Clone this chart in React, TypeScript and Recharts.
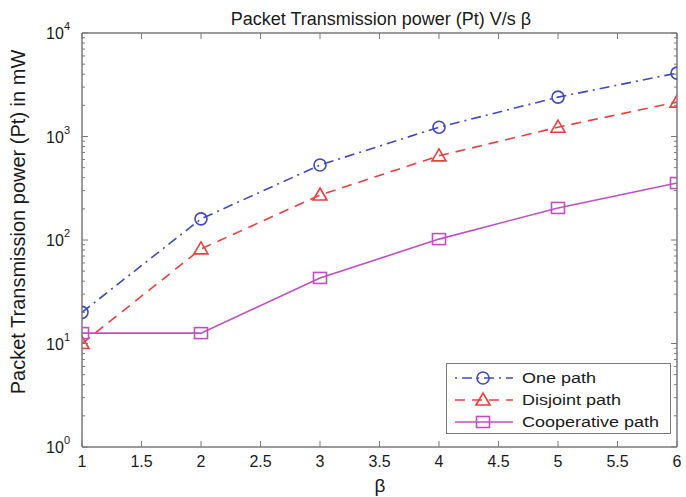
import React from 'react';
import { LineChart, Line, XAxis, YAxis, Customized } from 'recharts';

const betaValues = [1, 2, 3, 4, 5, 6];
const onePath = [20, 160, 530, 1230, 2400, 4100];
const disjointPath = [10, 82, 272, 650, 1230, 2150];
const cooperativePath = [12.6, 12.6, 43, 102, 204, 355];
const xTicks = [1, 1.5, 2, 2.5, 3, 3.5, 4, 4.5, 5, 5.5, 6];
const yDecades = [1, 10, 100, 1000];
const yMax = 10000;
const seriesNames = ['One path', 'Disjoint path', 'Cooperative path'];
const titleText = 'Packet Transmission power (Pt) V/s \u03b2';
const yLabelText = 'Packet Transmission power (Pt) in mW';
const xLabelText = '\u03b2';

const yTicks: number[] = [];
yDecades.forEach((d) => {
  for (let k = 1; k <= 9; k++) yTicks.push(k * d);
});
yTicks.push(yMax);

const data = betaValues.map((b, i) => ({
  beta: b,
  one: onePath[i],
  disjoint: disjointPath[i],
  coop: cooperativePath[i],
}));

const FONT = 'Liberation Sans, Arial, sans-serif';
const FRAME = '#7a7a7a';
const BLUE = '#3f49c0';
const RED = '#f23c3c';
const MAGENTA = '#c24ec4';
const TEXT = '#1a1a1a';

const isMajor = (v: number) => {
  const e = Math.round(Math.log10(v));
  return Math.abs(Math.pow(10, e) - v) < 1e-6;
};

const BottomTick = (props: any) => {
  const { x, y, payload } = props;
  return (
    <g>
      <line x1={x} y1={y} x2={x} y2={y - 6} stroke={FRAME} strokeWidth={1} />
      <text x={x} y={y + 20} textAnchor="middle" fontSize={16} fontFamily={FONT} fill={TEXT}>
        {payload.value}
      </text>
    </g>
  );
};

const TopTick = (props: any) => {
  const { x, y } = props;
  return <line x1={x} y1={y} x2={x} y2={y + 6} stroke={FRAME} strokeWidth={1} />;
};

const LeftTick = (props: any) => {
  const { x, y, payload } = props;
  const v = payload.value;
  const major = isMajor(v);
  const len = major ? 6 : 3;
  const e = Math.round(Math.log10(v));
  return (
    <g>
      <line x1={x} y1={y} x2={x + len} y2={y} stroke={FRAME} strokeWidth={1} />
      {major && (
        <text x={x - 12} y={y + 6} textAnchor="end" fontSize={16} fontFamily={FONT} fill={TEXT}>
          10
          <tspan dy={-9} fontSize={11}>
            {e}
          </tspan>
        </text>
      )}
    </g>
  );
};

const RightTick = (props: any) => {
  const { x, y, payload } = props;
  const len = isMajor(payload.value) ? 6 : 3;
  return <line x1={x} y1={y} x2={x - len} y2={y} stroke={FRAME} strokeWidth={1} />;
};

const CircleMark = ({ cx, cy, color }: any) => (
  <circle cx={cx} cy={cy} r={6} fill="none" stroke={color} strokeWidth={1.6} />
);
const TriangleMark = ({ cx, cy, color }: any) => (
  <path
    d={`M${cx},${cy - 7} L${cx + 7},${cy + 5} L${cx - 7},${cy + 5} Z`}
    fill="none"
    stroke={color}
    strokeWidth={1.6}
  />
);
const SquareMark = ({ cx, cy, color }: any) => (
  <rect x={cx - 6.5} y={cy - 5.5} width={13} height={11} fill="none" stroke={color} strokeWidth={1.6} />
);

const makeDot = (Comp: any, color: string) => (p: any) => {
  if (p.cx == null || p.cy == null) return <g key={p.key} />;
  return <Comp key={p.key} cx={p.cx} cy={p.cy} color={color} />;
};

const legendRows = [
  { name: seriesNames[0], color: BLUE, dash: '2 5 10 5', Mark: CircleMark },
  { name: seriesNames[1], color: RED, dash: '10 7', Mark: TriangleMark },
  { name: seriesNames[2], color: MAGENTA, dash: undefined, Mark: SquareMark },
];

const Decorations = () => {
  const lx = 446;
  const ly = 363;
  return (
    <g>
      <text x={381} y={25} textAnchor="middle" fontSize={18} fontFamily={FONT} fill={TEXT}>
        {titleText}
      </text>
      <text x={380} y={492} textAnchor="middle" fontSize={19} fontFamily={FONT} fill={TEXT}>
        {xLabelText}
      </text>
      <text
        x={0}
        y={0}
        transform="translate(25,222) rotate(-90)"
        textAnchor="middle"
        fontSize={20}
        fontFamily={FONT}
        fill={TEXT}
      >
        {yLabelText}
      </text>
      <rect x={lx + 0.5} y={ly + 0.5} width={224} height={70} fill="#fff" stroke={FRAME} strokeWidth={1} />
      {legendRows.map((r, i) => {
        const cy = ly + 15 + i * 22;
        const M = r.Mark;
        return (
          <g key={r.name}>
            <line
              x1={lx + 9}
              y1={cy}
              x2={lx + 67}
              y2={cy}
              stroke={r.color}
              strokeWidth={1.6}
              strokeDasharray={r.dash}
            />
            <M cx={lx + 37} cy={cy} color={r.color} />
            <g transform={`translate(${lx + 76},${cy + 5}) scale(1.2,1)`}>
              <text x={0} y={0} fontSize={15} fontFamily={FONT} fill={TEXT}>
                {r.name}
              </text>
            </g>
          </g>
        );
      })}
    </g>
  );
};

export default function App() {
  return (
    <div style={{ position: 'absolute', left: 0, top: 0, width: 686, height: 497, background: '#fff' }}>
      <LineChart
        width={686}
        height={497}
        data={data}
        margin={{ top: 32, right: 8, bottom: 0, left: 0 }}
      >
        <XAxis
          xAxisId="bottom"
          dataKey="beta"
          type="number"
          domain={[1, 6]}
          ticks={xTicks}
          orientation="bottom"
          height={50}
          tickSize={0}
          tickMargin={0}
          tickLine={false}
          axisLine={{ stroke: FRAME, strokeWidth: 1.5 }}
          tick={<BottomTick />}
          interval={0}
          allowDataOverflow
        />
        <XAxis
          xAxisId="top"
          dataKey="beta"
          type="number"
          domain={[1, 6]}
          ticks={xTicks}
          orientation="top"
          height={1}
          tickSize={0}
          tickMargin={0}
          tickLine={false}
          axisLine={{ stroke: FRAME, strokeWidth: 1.5 }}
          tick={<TopTick />}
          interval={0}
          allowDataOverflow
        />
        <YAxis
          yAxisId="left"
          scale="log"
          type="number"
          domain={[1, yMax]}
          ticks={yTicks}
          orientation="left"
          width={82}
          tickSize={0}
          tickMargin={0}
          tickLine={false}
          axisLine={{ stroke: FRAME, strokeWidth: 1.5 }}
          tick={<LeftTick />}
          interval={0}
          allowDataOverflow
        />
        <YAxis
          yAxisId="right"
          scale="log"
          type="number"
          domain={[1, yMax]}
          ticks={yTicks}
          orientation="right"
          width={1}
          tickSize={0}
          tickMargin={0}
          tickLine={false}
          axisLine={{ stroke: FRAME, strokeWidth: 1.5 }}
          tick={<RightTick />}
          interval={0}
          allowDataOverflow
        />
        <Line
          xAxisId="bottom"
          yAxisId="left"
          dataKey="one"
          name={seriesNames[0]}
          stroke={BLUE}
          strokeWidth={1.6}
          strokeDasharray="10 5 2 5"
          dot={makeDot(CircleMark, BLUE)}
          isAnimationActive={false}
        />
        <Line
          xAxisId="bottom"
          yAxisId="left"
          dataKey="disjoint"
          name={seriesNames[1]}
          stroke={RED}
          strokeWidth={1.6}
          strokeDasharray="10 7"
          dot={makeDot(TriangleMark, RED)}
          isAnimationActive={false}
        />
        <Line
          xAxisId="bottom"
          yAxisId="left"
          dataKey="coop"
          name={seriesNames[2]}
          stroke={MAGENTA}
          strokeWidth={1.6}
          dot={makeDot(SquareMark, MAGENTA)}
          isAnimationActive={false}
        />
        <Customized component={Decorations} />
      </LineChart>
    </div>
  );
}
